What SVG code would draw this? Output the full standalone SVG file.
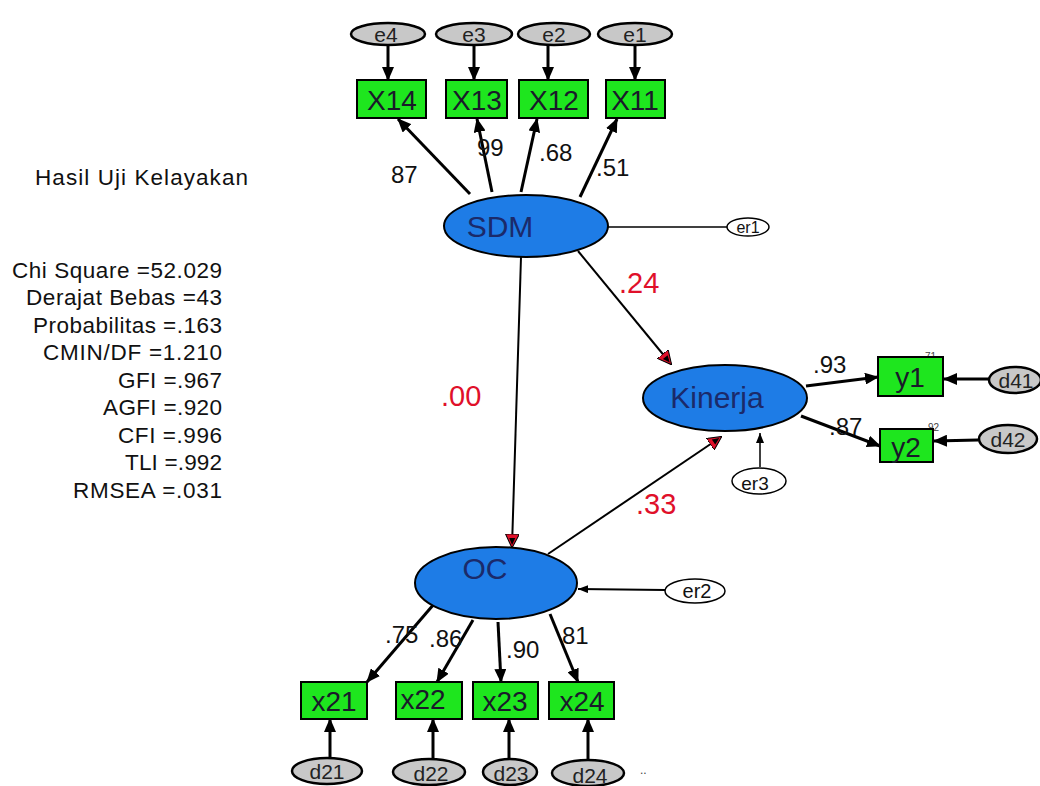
<svg xmlns="http://www.w3.org/2000/svg" width="1040" height="786" viewBox="0 0 1040 786">
<defs>
<marker id="ah" markerUnits="userSpaceOnUse" markerWidth="14" markerHeight="12" refX="13" refY="6" orient="auto"><path d="M0,0 L14,6 L0,12 z" fill="#000"/></marker>
<marker id="ahs" markerUnits="userSpaceOnUse" markerWidth="10" markerHeight="8" refX="10" refY="4" orient="auto"><path d="M0,0 L10,4 L0,8 z" fill="#000"/></marker>
<marker id="ahr" markerUnits="userSpaceOnUse" markerWidth="14" markerHeight="14" refX="13" refY="7" orient="auto"><path d="M0,0 L14,7 L0,14 z" fill="#e0102a" stroke="#000" stroke-width="1"/><path d="M4,4 L11,7 L4,10 z" fill="#000"/></marker>
<style>
.t{font-family:"Liberation Sans",Arial,sans-serif;}
.box{fill:#1ee61e;stroke:#000;stroke-width:2;}
.lat{fill:#1e7ce6;stroke:#000;stroke-width:2;}
.err{fill:#c8c8c8;stroke:#000;stroke-width:2.5;}
.res{fill:#fff;stroke:#000;stroke-width:1.5;}
.bt{font-size:28px;fill:#1a1a2a;text-anchor:middle;}
.lt{font-size:30px;fill:#1b2a6a;text-anchor:middle;}
.et{font-size:21px;fill:#222;text-anchor:middle;}
.pl{font-size:24px;fill:#111;}
.rl{font-size:29px;fill:#e0102a;}
.st{font-size:22.5px;fill:#111;}
.m{stroke:#000;stroke-width:3;fill:none;marker-end:url(#ah);}
.s{stroke:#000;stroke-width:2;fill:none;marker-end:url(#ahr);}
</style>
</defs>
<rect width="1040" height="786" fill="#fff"/>

<g id="info" class="t">
<text class="st" x="35" y="185" textLength="213" lengthAdjust="spacing">Hasil  Uji  Kelayakan</text>
<text class="st" x="12" y="278" textLength="210" lengthAdjust="spacing">Chi Square =52.029</text>
<text class="st" x="26" y="305" textLength="196" lengthAdjust="spacing">Derajat Bebas =43</text>
<text class="st" x="33" y="333" textLength="189" lengthAdjust="spacing">Probabilitas =.163</text>
<text class="st" x="43" y="360" textLength="179" lengthAdjust="spacing">CMIN/DF =1.210</text>
<text class="st" x="118" y="388" textLength="104" lengthAdjust="spacing">GFI =.967</text>
<text class="st" x="103" y="415" textLength="119" lengthAdjust="spacing">AGFI =.920</text>
<text class="st" x="118" y="443" textLength="104" lengthAdjust="spacing">CFI =.996</text>
<text class="st" x="125" y="470" textLength="97" lengthAdjust="spacing">TLI =.992</text>
<text class="st" x="73" y="498" textLength="149" lengthAdjust="spacing">RMSEA =.031</text>
</g>

<g id="connectors">
<line class="m" x1="388" y1="45" x2="388" y2="80"/>
<line class="m" x1="474" y1="45" x2="474" y2="80"/>
<line class="m" x1="548" y1="45" x2="548" y2="80"/>
<line class="m" x1="635" y1="45" x2="635" y2="80"/>
<line class="m" x1="470" y1="194" x2="398" y2="119"/>
<line class="m" x1="492" y1="192" x2="477" y2="119"/>
<line class="m" x1="521" y1="192" x2="537" y2="119"/>
<line class="m" x1="580" y1="197" x2="617" y2="119"/>
<line x1="608" y1="227" x2="727" y2="227" stroke="#000" stroke-width="1.5"/>
<line class="s" x1="578" y1="251" x2="671" y2="364"/>
<line class="s" x1="521" y1="257" x2="512" y2="547"/>
<line class="s" x1="548" y1="554" x2="721" y2="437"/>
<line x1="760" y1="467" x2="760" y2="433" stroke="#000" stroke-width="1.5" marker-end="url(#ahs)"/>
<line x1="665" y1="590" x2="578" y2="589" stroke="#000" stroke-width="2" marker-end="url(#ahs)"/>
<line class="m" x1="806" y1="386" x2="878" y2="377"/>
<line class="m" x1="801" y1="416" x2="880" y2="446"/>
<line class="m" x1="990" y1="379" x2="944" y2="379"/>
<line class="m" x1="978" y1="440" x2="934" y2="441"/>
<line class="m" x1="434" y1="604" x2="367" y2="682"/>
<line class="m" x1="473" y1="620" x2="437" y2="682"/>
<line class="m" x1="498" y1="622" x2="501" y2="682"/>
<line class="m" x1="550" y1="614" x2="578" y2="682"/>
<line class="m" x1="330" y1="758" x2="330" y2="719"/>
<line class="m" x1="433" y1="759" x2="433" y2="719"/>
<line class="m" x1="509" y1="759" x2="509" y2="719"/>
<line class="m" x1="588" y1="760" x2="588" y2="719"/>
</g>

<g id="path-labels" class="t">
<text class="pl" x="391" y="183">87</text>
<text class="pl" x="477" y="156">99</text>
<text class="pl" x="539" y="161">.68</text>
<text class="pl" x="596" y="176">.51</text>
<text class="rl" x="619" y="293">.24</text>
<text class="rl" x="441" y="406">.00</text>
<text class="rl" x="636" y="514">.33</text>
<text class="pl" x="813" y="373">.93</text>
<text class="pl" x="829" y="435">.87</text>
<text x="925" y="360" font-size="10" fill="#444">71</text>
<text x="928" y="431" font-size="10" fill="#444">92</text>
<text class="pl" x="385" y="643">.75</text>
<text class="pl" x="429" y="647">.86</text>
<text class="pl" x="506" y="658">.90</text>
<text class="pl" x="562" y="644">81</text>
<text x="640" y="774" font-size="12" fill="#444">..</text>
</g>

<g id="e4" class="t"><ellipse class="err" cx="388" cy="34" rx="37" ry="11"/><text class="et" x="386" y="42">e4</text></g>
<g id="e3" class="t"><ellipse class="err" cx="474" cy="34" rx="38" ry="11"/><text class="et" x="474" y="42">e3</text></g>
<g id="e2" class="t"><ellipse class="err" cx="554" cy="34" rx="36" ry="11"/><text class="et" x="554" y="42">e2</text></g>
<g id="e1" class="t"><ellipse class="err" cx="635" cy="34" rx="37" ry="11"/><text class="et" x="635" y="42">e1</text></g>

<g id="X14" class="t"><rect class="box" x="357" y="80" width="69" height="38"/><text class="bt" x="392" y="110">X14</text></g>
<g id="X13" class="t"><rect class="box" x="446" y="80" width="61" height="38"/><text class="bt" x="477" y="110">X13</text></g>
<g id="X12" class="t"><rect class="box" x="519" y="80" width="69" height="38"/><text class="bt" x="554" y="110">X12</text></g>
<g id="X11" class="t"><rect class="box" x="606" y="80" width="59" height="38"/><text class="bt" x="635" y="110">X11</text></g>

<g id="SDM" class="t"><ellipse class="lat" cx="526" cy="226" rx="82" ry="31"/><text class="lt" x="500" y="237">SDM</text></g>
<g id="er1" class="t"><ellipse class="res" cx="748" cy="227" rx="21" ry="9"/><text x="748" y="233" font-size="16" fill="#111" text-anchor="middle">er1</text></g>

<g id="Kinerja" class="t"><ellipse class="lat" cx="725" cy="398" rx="82" ry="33"/><text class="lt" x="717" y="408">Kinerja</text></g>
<g id="er3" class="t"><ellipse class="res" cx="759" cy="481" rx="27" ry="13"/><text x="755" y="490" font-size="19" fill="#111" text-anchor="middle">er3</text></g>

<g id="y1" class="t"><rect class="box" x="878" y="357" width="65" height="39"/><text class="bt" x="910" y="387">y1</text></g>
<g id="y2" class="t"><rect class="box" x="880" y="429" width="53" height="33"/><text class="bt" x="906" y="457">y2</text></g>
<g id="d41" class="t"><ellipse class="err" cx="1015" cy="380" rx="26" ry="13"/><text class="et" x="1016" y="388">d41</text></g>
<g id="d42" class="t"><ellipse class="err" cx="1008" cy="439" rx="29" ry="14"/><text class="et" x="1008" y="447">d42</text></g>

<g id="OC" class="t"><ellipse class="lat" cx="496" cy="583" rx="81" ry="36"/><text class="lt" x="485" y="579">OC</text></g>
<g id="er2" class="t"><ellipse class="res" cx="695" cy="591" rx="30" ry="12"/><text x="697" y="598" font-size="20" fill="#111" text-anchor="middle">er2</text></g>

<g id="x21" class="t"><rect class="box" x="301" y="682" width="66" height="37"/><text class="bt" x="334" y="711">x21</text></g>
<g id="x22" class="t"><rect class="box" x="396" y="682" width="66" height="37"/><text class="bt" x="423" y="709">x22</text></g>
<g id="x23" class="t"><rect class="box" x="473" y="682" width="65" height="37"/><text class="bt" x="505" y="711">x23</text></g>
<g id="x24" class="t"><rect class="box" x="549" y="682" width="65" height="37"/><text class="bt" x="582" y="711">x24</text></g>

<g id="d21" class="t"><ellipse class="err" cx="327" cy="771" rx="35" ry="13"/><text class="et" x="327" y="779">d21</text></g>
<g id="d22" class="t"><ellipse class="err" cx="429" cy="772" rx="36" ry="13"/><text class="et" x="431" y="781">d22</text></g>
<g id="d23" class="t"><ellipse class="err" cx="510" cy="772" rx="27" ry="13"/><text class="et" x="511" y="781">d23</text></g>
<g id="d24" class="t"><ellipse class="err" cx="588" cy="773" rx="36" ry="13"/><text class="et" x="590" y="783">d24</text></g>
</svg>
